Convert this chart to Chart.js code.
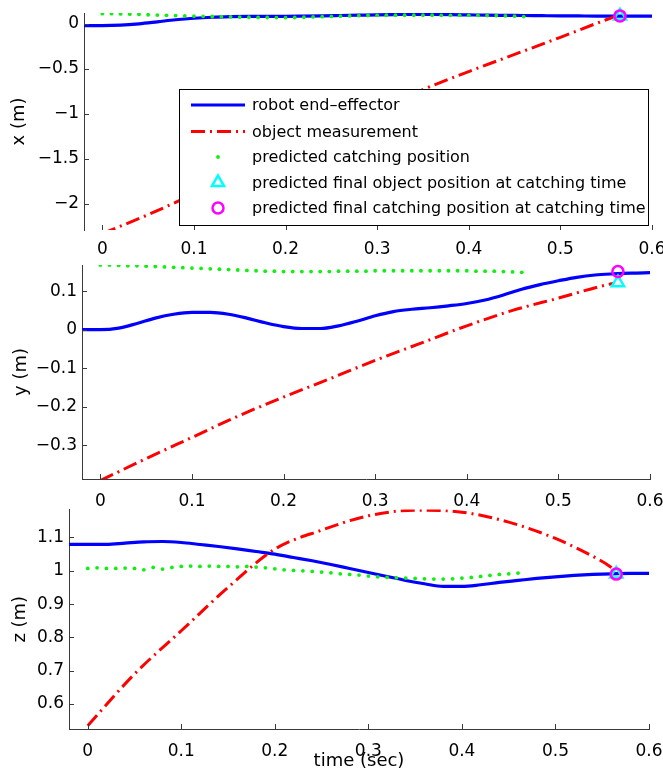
<!DOCTYPE html>
<html>
<head>
<meta charset="utf-8">
<script src="https://cdn.jsdelivr.net/npm/chart.js@4.4.0/dist/chart.umd.min.js"></script>
<style>
  body { margin: 0; background: #fff; }
  #wrap { position: relative; width: 663px; height: 772px; overflow: hidden; }
  canvas { position: absolute; left: 0; }
</style>
</head>
<body>
<div id="wrap">
  <canvas id="cx" width="663" height="262" style="top:0"></canvas>
  <canvas id="cy" width="663" height="262" style="top:250px"></canvas>
  <canvas id="cz" width="663" height="272" style="top:500px"></canvas>
</div>
<script>
// time axis
const xTicks = [0, 0.1, 0.2, 0.3, 0.4, 0.5, 0.6];
const xTickLabels = ['0', '0.1', '0.2', '0.3', '0.4', '0.5', '0.6'];

// y ticks per panel
const yTicksX = [-2, -1.5, -1, -0.5, 0];
const yLabelsX = ['\u22122', '\u22121.5', '\u22121', '\u22120.5', '0'];
const yTicksY = [-0.3, -0.2, -0.1, 0, 0.1];
const yLabelsY = ['\u22120.3', '\u22120.2', '\u22120.1', '0', '0.1'];
const yTicksZ = [0.6, 0.7, 0.8, 0.9, 1, 1.1];
const yLabelsZ = ['0.6', '0.7', '0.8', '0.9', '1', '1.1'];

// robot end-effector
const tRobot = [-0.02, 0, 0.02, 0.04, 0.06, 0.08, 0.1, 0.12, 0.14, 0.16, 0.18, 0.2, 0.22, 0.24, 0.26, 0.28,
  0.3, 0.32, 0.34, 0.36, 0.38, 0.4, 0.42, 0.44, 0.46, 0.48, 0.5, 0.52, 0.54, 0.56, 0.58, 0.6];
const robotX = [-0.02, -0.02, -0.015, 0.0, 0.022, 0.045, 0.062, 0.073, 0.079, 0.082, 0.083, 0.083, 0.085, 0.088, 0.092, 0.096,
  0.1, 0.103, 0.105, 0.104, 0.102, 0.099, 0.096, 0.094, 0.092, 0.09, 0.088, 0.087, 0.086, 0.086, 0.085, 0.085];
const robotY = [0, 0, 0.004, 0.016, 0.03, 0.04, 0.045, 0.045, 0.04, 0.03, 0.018, 0.008, 0.003, 0.003, 0.01, 0.022,
  0.036, 0.047, 0.053, 0.057, 0.062, 0.068, 0.077, 0.09, 0.105, 0.117, 0.127, 0.136, 0.142, 0.145, 0.147, 0.148];
const robotZ = [1.079, 1.079, 1.079, 1.083, 1.087, 1.088, 1.085, 1.079, 1.073, 1.066, 1.058, 1.05, 1.04, 1.03, 1.019, 1.007,
  0.995, 0.983, 0.971, 0.961, 0.953, 0.953, 0.958, 0.965, 0.971, 0.977, 0.982, 0.986, 0.989, 0.991, 0.992, 0.992];

// object measurement
const tObject = [0, 0.05, 0.1, 0.15, 0.2, 0.25, 0.3, 0.35, 0.4, 0.45, 0.5, 0.55, 0.56];
const objX = [-2.33, -2.12, -1.89, -1.66, -1.42, -1.18, -0.95, -0.73, -0.53, -0.34, -0.15, 0.045, 0.08];
const objY = [-0.392, -0.335, -0.28, -0.225, -0.175, -0.128, -0.08, -0.035, 0.01, 0.05, 0.082, 0.115, 0.12];
const objZ = [0.535, 0.69, 0.82, 0.95, 1.065, 1.122, 1.165, 1.182, 1.176, 1.146, 1.097, 1.028, 1.01];

// predicted catching position
const tPred = [0, 0.01, 0.02, 0.03, 0.04, 0.05, 0.06, 0.07, 0.08, 0.09, 0.1, 0.11, 0.12, 0.13, 0.14, 0.15,
  0.16, 0.17, 0.18, 0.19, 0.2, 0.21, 0.22, 0.23, 0.24, 0.25, 0.26, 0.27, 0.28, 0.29, 0.3, 0.31,
  0.32, 0.33, 0.34, 0.35, 0.36, 0.37, 0.38, 0.39, 0.4, 0.41, 0.42, 0.43, 0.44, 0.45, 0.46];
const predX = [0.113, 0.112, 0.11, 0.107, 0.104, 0.1, 0.097, 0.094, 0.091, 0.088, 0.085, 0.083, 0.081, 0.079, 0.077, 0.075,
  0.073, 0.071, 0.07, 0.069, 0.068, 0.07, 0.073, 0.076, 0.079, 0.082, 0.085, 0.088, 0.09, 0.092, 0.094, 0.095,
  0.095, 0.095, 0.095, 0.095, 0.095, 0.094, 0.094, 0.094, 0.094, 0.093, 0.092, 0.09, 0.088, 0.085, 0.08];
const predY = [0.168, 0.168, 0.167, 0.166, 0.166, 0.165, 0.164, 0.163, 0.162, 0.161, 0.16, 0.159, 0.158, 0.157, 0.156, 0.155,
  0.154, 0.153, 0.152, 0.152, 0.151, 0.151, 0.151, 0.151, 0.151, 0.151, 0.152, 0.152, 0.152, 0.152, 0.153, 0.153,
  0.153, 0.153, 0.153, 0.153, 0.153, 0.153, 0.153, 0.153, 0.153, 0.152, 0.152, 0.152, 0.151, 0.15, 0.149];
const predZ = [1.007, 1.009, 1.007, 1.007, 1.008, 1.007, 1.003, 1.01, 1.005, 1.01, 1.013, 1.014, 1.013, 1.014, 1.013, 1.013,
  1.012, 1.013, 1.011, 1.009, 1.006, 1.003, 1.001, 1.0, 0.998, 0.996, 0.994, 0.991, 0.989, 0.987, 0.984, 0.982,
  0.98, 0.979, 0.978, 0.977, 0.976, 0.975, 0.975, 0.976, 0.978, 0.98, 0.983, 0.986, 0.989, 0.991, 0.993];

// final values at catching time
const catchTime = 0.565;
const finalObject = [0.088, 0.122, 0.99];   // x, y, z
const finalCatch = [0.088, 0.151, 0.99];

const labels = ['robot end\u2013effector', 'object measurement', 'predicted catching position',
  'predicted final object position at catching time', 'predicted final catching position at catching time'];

const FONT = '"DejaVu Sans", "Liberation Sans", sans-serif';
const axisColor = '#3a3a3a';
Chart.defaults.font.family = FONT;
Chart.defaults.color = '#000';

function pairs(ts, vs) {
  return ts.map((t, i) => ({ x: t, y: vs[i] }));
}

// tick marks pointing into the plot, like the original figure
const inwardTicks = {
  id: 'inwardTicks',
  afterDatasetsDraw(chart) {
    const { ctx, chartArea: a, scales: { x, y } } = chart;
    ctx.save();
    ctx.strokeStyle = axisColor;
    ctx.lineWidth = 1;
    ctx.beginPath();
    x.ticks.forEach(t => {
      const px = Math.round(x.getPixelForValue(t.value)) + 0.5;
      ctx.moveTo(px, a.bottom);
      ctx.lineTo(px, a.bottom - 5);
    });
    y.ticks.forEach(t => {
      const py = Math.round(y.getPixelForValue(t.value)) + 0.5;
      ctx.moveTo(a.left, py);
      ctx.lineTo(a.left + 5, py);
    });
    ctx.stroke();
    ctx.restore();
  }
};

function drawMarker(ctx, style, x, y, r) {
  ctx.beginPath();
  if (style === 'triangle') {
    let rad = 0;
    ctx.moveTo(x + Math.sin(rad) * r, y - Math.cos(rad) * r);
    rad += 2 * Math.PI / 3;
    ctx.lineTo(x + Math.sin(rad) * r, y - Math.cos(rad) * r);
    rad += 2 * Math.PI / 3;
    ctx.lineTo(x + Math.sin(rad) * r, y - Math.cos(rad) * r);
    ctx.closePath();
  } else {
    ctx.arc(x, y, r, 0, Math.PI * 2);
  }
}

// boxed legend inside the top panel
const boxLegend = {
  id: 'boxLegend',
  afterDraw(chart) {
    const ctx = chart.ctx;
    const rows = [105, 131.5, 157, 182.5, 208];
    ctx.save();
    ctx.fillStyle = '#fff';
    ctx.fillRect(179.5, 89.5, 469, 136);
    ctx.strokeStyle = '#000';
    ctx.lineWidth = 1;
    ctx.strokeRect(179.5, 89.5, 469, 136);
    chart.data.datasets.forEach((ds, i) => {
      const y = rows[i];
      if (ds.showLine === false) {
        drawMarker(ctx, ds.pointStyle, 218, y, ds.pointRadius);
        if (ds.pointBorderWidth > 0) {
          ctx.lineWidth = ds.pointBorderWidth;
          ctx.strokeStyle = ds.pointBorderColor;
          ctx.stroke();
        } else {
          ctx.fillStyle = ds.pointBackgroundColor;
          ctx.fill();
        }
      } else {
        ctx.beginPath();
        ctx.setLineDash(ds.borderDash || []);
        ctx.strokeStyle = ds.borderColor;
        ctx.lineWidth = ds.borderWidth;
        ctx.moveTo(191, y);
        ctx.lineTo(245, y);
        ctx.stroke();
        ctx.setLineDash([]);
      }
      ctx.fillStyle = '#000';
      ctx.font = '16px ' + FONT;
      ctx.textBaseline = 'middle';
      ctx.fillText(ds.label, 252, y + 1);
    });
    ctx.restore();
  }
};

const panels = [
  { id: 'cx', title: 'x (m)', robot: robotX, obj: objX, pred: predX, k: 0,
    yMin: -2.29, yMax: 0.12, yTicks: yTicksX, yLabels: yLabelsX,
    padTop: 13, padRight: 11, yW: 84, xH: 32, xPad: 9, titlePad: 9, xBorder: false, legend: true },
  { id: 'cy', title: 'y (m)', robot: robotY, obj: objY, pred: predY, k: 1,
    yMin: -0.388, yMax: 0.168, yTicks: yTicksY, yLabels: yLabelsY,
    padTop: 15, padRight: 13, yW: 82, xH: 33, xPad: 12, titlePad: 11, xBorder: true, legend: false },
  { id: 'cz', title: 'z (m)', robot: robotZ, obj: objZ, pred: predZ, k: 2,
    yMin: 0.525, yMax: 1.184, yTicks: yTicksZ, yLabels: yLabelsZ,
    padTop: 9, padRight: 14, yW: 69, xH: 43, xPad: 12, titlePad: 10, xBorder: true, legend: false, xTitle: 'time (sec)' }
];

panels.forEach(p => {
  const datasets = [
    { label: labels[0], data: pairs(tRobot, p.robot), borderColor: '#0000ff', borderWidth: 3.2,
      pointRadius: 0, cubicInterpolationMode: 'monotone', order: 5 },
    { label: labels[1], data: pairs(tObject, p.obj), borderColor: '#ff0000', borderWidth: 3,
      borderDash: [14, 5, 2, 5], pointRadius: 0, cubicInterpolationMode: 'monotone', order: 4 },
    { label: labels[2], data: pairs(tPred, p.pred), showLine: false, pointStyle: 'circle',
      pointRadius: 1.9, pointBorderWidth: 0, pointBackgroundColor: '#11ee11', order: 3 },
    { label: labels[3], data: [{ x: catchTime, y: finalObject[p.k] }], showLine: false, pointStyle: 'triangle',
      pointRadius: 7, pointBorderWidth: 2.5, pointBorderColor: '#00ffff', pointBackgroundColor: 'rgba(0,0,0,0)',
      clip: false, order: 2 },
    { label: labels[4], data: [{ x: catchTime, y: finalCatch[p.k] }], showLine: false, pointStyle: 'circle',
      pointRadius: 5.5, pointBorderWidth: 2.5, pointBorderColor: '#ff00ff', pointBackgroundColor: 'rgba(0,0,0,0)',
      clip: false, order: 1 }
  ];

  new Chart(document.getElementById(p.id), {
    type: 'line',
    data: { datasets },
    options: {
      responsive: false,
      animation: false,
      events: [],
      layout: { padding: { top: p.padTop, right: p.padRight, left: 0, bottom: 0 } },
      plugins: { legend: { display: false }, tooltip: { enabled: false } },
      scales: {
        x: {
          type: 'linear', min: -0.02, max: 0.6,
          grid: { display: false, drawTicks: false },
          border: { display: p.xBorder, color: axisColor, width: 1 },
          ticks: { padding: p.xPad, font: { size: 17 }, color: '#000', maxRotation: 0,
            callback: (v, i) => xTickLabels[i] },
          afterBuildTicks: s => { s.ticks = xTicks.map(v => ({ value: v })); },
          afterFit: s => { s.height = p.xH; s.paddingLeft = 0; s.paddingRight = 0; },
          title: { display: !!p.xTitle, text: p.xTitle || '', font: { size: 18 }, color: '#000',
            padding: { top: 0, bottom: 0 } }
        },
        y: {
          type: 'linear', min: p.yMin, max: p.yMax,
          grid: { display: false, drawTicks: false },
          border: { display: true, color: axisColor, width: 1 },
          ticks: { padding: 5, font: { size: 17 }, color: '#000',
            callback: (v, i) => p.yLabels[i] },
          afterBuildTicks: s => { s.ticks = p.yTicks.map(v => ({ value: v })); },
          afterFit: s => { s.width = p.yW; s.paddingTop = 0; s.paddingBottom = 0; },
          title: { display: true, text: p.title, font: { size: 18 }, color: '#000',
            padding: { top: p.titlePad, bottom: 0 } }
        }
      }
    },
    plugins: p.legend ? [inwardTicks, boxLegend] : [inwardTicks]
  });
});
</script>
</body>
</html>
